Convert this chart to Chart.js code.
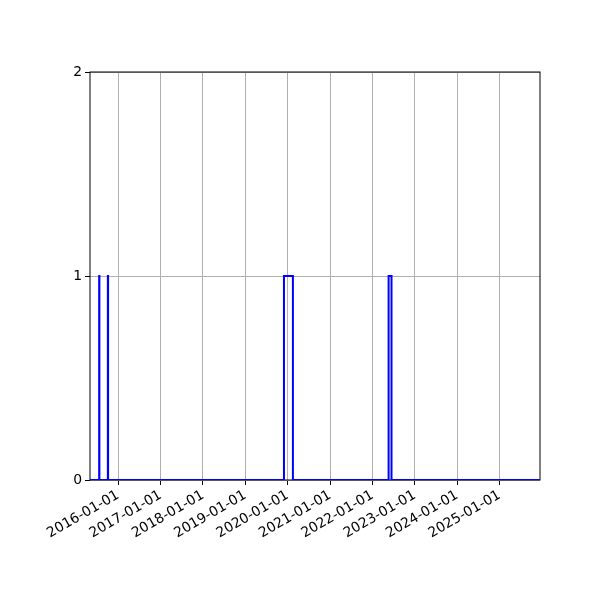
<!DOCTYPE html>
<html>
<head>
<meta charset="utf-8">
<script src="https://cdn.jsdelivr.net/npm/chart.js@4"></script>
<style>
  body { margin: 0; background: #fff; }
</style>
</head>
<body>
<canvas id="stepChart" width="600" height="600"></canvas>
<script>
// change points of the step series (value holds until the next date)
const changeDates = ['2015-05-03', '2015-07-21', '2015-07-23', '2015-10-04', '2015-10-06',
  '2019-11-30', '2020-02-15', '2022-05-20', '2022-06-14', '2025-12-15'];
const stepValues = [0, 1, 0, 1, 0, 1, 0, 1, 0, 0];
const tickYears = [2016, 2017, 2018, 2019, 2020, 2021, 2022, 2023, 2024, 2025];
const yTicks = [0, 1, 2];

const points = changeDates.map((d, i) => ({ x: Date.parse(d), y: stepValues[i] }));

// black frame around the plot area, like matplotlib spines
const frame = {
  id: 'frame',
  beforeDatasetsDraw(chart) {
    const a = chart.chartArea;
    const ctx = chart.ctx;
    ctx.save();
    ctx.strokeStyle = '#000';
    ctx.lineWidth = 1;
    ctx.strokeRect(a.left, a.top, a.right - a.left, a.bottom - a.top);
    ctx.restore();
  }
};

const ctx = document.getElementById('stepChart').getContext('2d');
new Chart(ctx, {
  type: 'line',
  data: {
    datasets: [{
      data: points,
      borderColor: 'blue',
      borderWidth: 2,
      pointRadius: 0,
      stepped: true,
      fill: false
    }]
  },
  options: {
    responsive: false,
    animation: false,
    layout: { padding: { top: 72, right: 60, left: 0, bottom: 0 } },
    plugins: { legend: { display: false }, tooltip: { enabled: false } },
    scales: {
      x: {
        type: 'linear',
        min: points[0].x,
        max: points[points.length - 1].x,
        afterBuildTicks: scale => {
          scale.ticks = tickYears.map(y => ({ value: Date.UTC(y, 0, 1) }));
        },
        afterFit: scale => { scale.height = 120; },
        ticks: {
          autoSkip: false,
          minRotation: 30,
          maxRotation: 30,
          padding: 2,
          color: '#000',
          font: { family: 'DejaVu Sans', size: 13.9 },
          callback: v => new Date(v).toISOString().slice(0, 10)
        },
        grid: { color: '#b0b0b0', lineWidth: 1, tickColor: '#000', tickLength: 5 },
        border: { display: false }
      },
      y: {
        min: 0,
        max: 2,
        afterBuildTicks: scale => {
          scale.ticks = yTicks.map(v => ({ value: v }));
        },
        afterFit: scale => { scale.width = 90; },
        ticks: {
          padding: 3,
          color: '#000',
          font: { family: 'DejaVu Sans', size: 13.9 }
        },
        grid: { color: '#b0b0b0', lineWidth: 1, tickColor: '#000', tickLength: 5 },
        border: { display: false }
      }
    }
  },
  plugins: [frame]
});
</script>
</body>
</html>
